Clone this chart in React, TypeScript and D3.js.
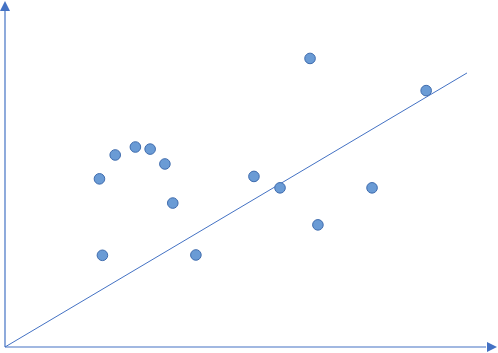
import React from "react";
import * as d3 from "d3";

const xValues = [19.2, 22.4, 26.5, 29.5, 32.5, 34.1, 19.8, 38.8, 50.6, 55.9, 62.0, 63.6, 74.6, 85.6];
const yValues = [48.6, 55.5, 57.8, 57.2, 52.9, 41.6, 26.5, 26.6, 49.3, 46.0, 83.4, 35.3, 46.0, 74.1];
const lineX = [0, 93.9];
const lineY = [0, 79.2];

const W = 498;
const H = 353;

export default function App() {
  const x = d3.scaleLinear().domain([0, 100]).range([5, 497]);
  const y = d3.scaleLinear().domain([0, 100]).range([347, 1]);
  const pts = xValues.map((v, i) => ({ x: v, y: yValues[i] }));
  const line = d3.line<number>().x((d) => x(lineX[d])).y((d) => y(lineY[d]));
  const axisColor = "#4472c4";
  return (
    <svg
      width={W}
      height={H}
      style={{ position: "absolute", left: 0, top: 0, background: "#fff" }}
    >
      <line x1={x(0)} y1={y(0)} x2={x(0)} y2={10} stroke={axisColor} strokeWidth={1.2} />
      <path d={`M${x(0) - 5},${11} L${x(0)},${1} L${x(0) + 5},${11} Z`} fill={axisColor} />
      <line x1={x(0)} y1={y(0)} x2={486} y2={y(0)} stroke={axisColor} strokeWidth={1.2} />
      <path d={`M${487},${y(0) - 5} L${497},${y(0)} L${487},${y(0) + 5} Z`} fill={axisColor} />
      <path d={line([0, 1]) || ""} fill="none" stroke={axisColor} strokeWidth={1} />
      {pts.map((p, i) => (
        <circle
          key={i}
          cx={x(p.x)}
          cy={y(p.y)}
          r={5.3}
          fill="#6a9bd5"
          stroke="#3f6cae"
          strokeWidth={1}
        />
      ))}
    </svg>
  );
}
